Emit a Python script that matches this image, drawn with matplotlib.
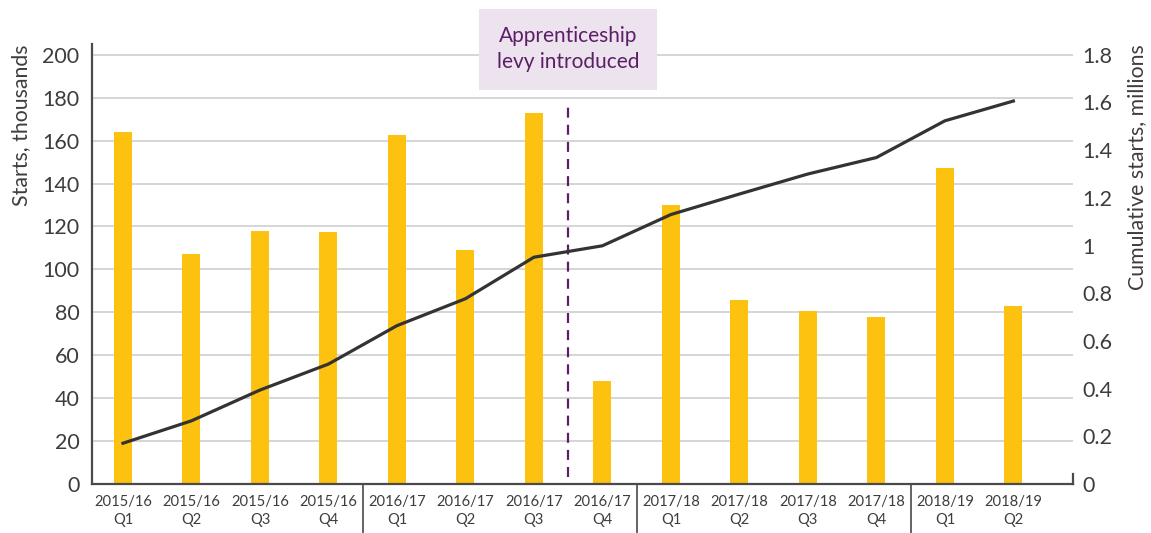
import matplotlib
matplotlib.use("Agg")
import matplotlib.pyplot as plt
import matplotlib.transforms as mtransforms

plt.rcParams['font.family'] = ['Lato', 'DejaVu Sans']

# data
quarters = ["2015/16\nQ1", "2015/16\nQ2", "2015/16\nQ3", "2015/16\nQ4",
            "2016/17\nQ1", "2016/17\nQ2", "2016/17\nQ3", "2016/17\nQ4",
            "2017/18\nQ1", "2017/18\nQ2", "2017/18\nQ3", "2017/18\nQ4",
            "2018/19\nQ1", "2018/19\nQ2"]
starts = [164.1, 107.0, 118.1, 117.2, 162.7, 108.8, 172.9,
          48.0, 130.2, 85.6, 80.5, 77.7, 147.3, 82.8]
cumulative = [0.171, 0.265, 0.394, 0.503, 0.664, 0.777, 0.951,
              0.999, 1.130, 1.216, 1.300, 1.369, 1.523, 1.606]
left_ticks = [0, 20, 40, 60, 80, 100, 120, 140, 160, 180, 200]
right_ticks = [0, 0.2, 0.4, 0.6, 0.8, 1, 1.2, 1.4, 1.6, 1.8]
right_labels = ["0", "0.2", "0.4", "0.6", "0.8", "1", "1.2", "1.4", "1.6", "1.8"]
year_breaks = [3.5, 7.5, 11.5]
levy_pos = 6.5

text_col = "#3d3d3d"
bar_col = "#fdc110"
purple = "#5b1f66"

fig = plt.figure(figsize=(11.51, 5.33), dpi=100)
ax = fig.add_axes([0.0799, 0.0919, 0.8523, 0.8255])
ax2 = ax.twinx()

x = list(range(len(quarters)))
ax.bar(x, starts, width=0.263, color=bar_col, zorder=2)

ax.set_xlim(-0.4526, 13.87)
ax.set_ylim(0, 205)
ax2.set_ylim(0, 1.845)

ax.set_yticks(left_ticks)
ax.grid(axis="y", color="#d2d2d2", linewidth=1.3, zorder=0)
ax.set_axisbelow(True)
ax.set_xticks(x)
ax.set_xticklabels(quarters, fontsize=10.6, color=text_col, linespacing=1.35)
ax.tick_params(axis="x", length=0, pad=8)
ax.tick_params(axis="y", length=0, pad=9, labelsize=15.5, labelcolor=text_col)

ax2.set_yticks(right_ticks)
ax2.set_yticklabels(right_labels)
ax2.tick_params(axis="y", length=0, pad=7, labelsize=15.5, labelcolor=text_col)

for a in (ax, ax2):
    for s in ("top", "right"):
        a.spines[s].set_visible(False)
ax2.spines["left"].set_visible(False)
ax2.spines["bottom"].set_visible(False)
ax.spines["left"].set_color("#4a4a4a")
ax.spines["bottom"].set_color("#4a4a4a")
ax.spines["left"].set_linewidth(1.6)
ax.spines["bottom"].set_linewidth(1.6)

ax.set_ylabel("Starts, thousands", fontsize=15.3, color=text_col, loc="top", labelpad=8)
ax2.set_ylabel("Cumulative starts, millions", fontsize=15.3, color=text_col, loc="top", labelpad=10)

ax2.plot(x, cumulative, color="#333333", linewidth=2.3, zorder=4)
ax.set_zorder(ax2.get_zorder() - 1)
ax.patch.set_visible(False)
ax2.patch.set_visible(True)
ax2.patch.set_alpha(0)

# short tick at right end of the x axis
ax.plot([13.87, 13.87], [0, 4.7], color="#4a4a4a", linewidth=1.6, clip_on=False)

# year separators below the axis
trans = mtransforms.blended_transform_factory(ax.transData, ax.transAxes)
for b in year_breaks:
    ax.plot([b, b], [0, -0.115], transform=trans, color="#4a4a4a",
            linewidth=1.2, clip_on=False)

# levy marker
ax.plot([levy_pos, levy_pos], [3.4, 178], color=purple, linewidth=1.6,
        linestyle=(0, (4.5, 3.2)), zorder=3)
ax.text(levy_pos, 202.6, "Apprenticeship\nlevy introduced", ha="center", va="center",
        fontsize=15, color=purple, linespacing=1.35, zorder=10,
        bbox=dict(boxstyle="square,pad=0.85", facecolor="#ede3ee", edgecolor="none"))

fig.savefig("out.png", dpi=100)
